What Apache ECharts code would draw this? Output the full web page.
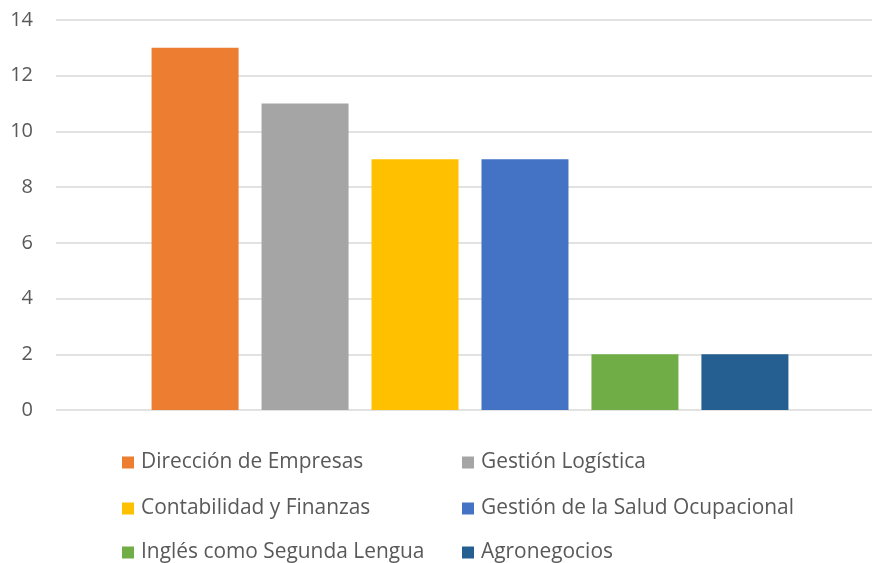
<!DOCTYPE html>
<html><head><meta charset="utf-8">
<script src="https://cdn.jsdelivr.net/npm/echarts@6/dist/echarts.min.js"></script>
<style>html,body{margin:0;padding:0;background:#fff}#c{width:872px;height:563px}</style>
</head><body><div id="c"></div>
<script>
const categories = [''];
const seriesNames = ['Dirección de Empresas','Gestión Logística','Contabilidad y Finanzas','Gestión de la Salud Ocupacional','Inglés como Segunda Lengua','Agronegocios'];
const seriesValues = [13, 11, 9, 9, 2, 2];
const seriesColors = ['#ED7D31','#A5A5A5','#FFC000','#4472C4','#70AD47','#255E91'];
const yTicks = [0,2,4,6,8,10,12,14];

const font = '"Open Sans", Lato, sans-serif';
const chart = echarts.init(document.getElementById('c'));
const series = seriesNames.map((n,i)=>({
  name:n, type:'bar', data:[seriesValues[i]], barWidth:87, barGap:'26.4%',
  itemStyle:{color:seriesColors[i]}
}));
const legendPos = [[117,447],[457,447],[117,493],[457,493],[117,537],[457,537]];
const legends = seriesNames.map((n,i)=>({
  left:legendPos[i][0], top:legendPos[i][1], data:[n],
  itemWidth:12, itemHeight:12, icon:'rect',
  textStyle:{fontFamily:font, fontSize:20.9, color:'#595959', padding:[0,0,0,2]}
}));
chart.setOption({
  animation:false,
  grid:{left:56, top:20, width:828, height:390, containLabel:false, outerBoundsMode:'none'},
  xAxis:{type:'category', data:categories, axisLine:{show:false}, axisTick:{show:false}, axisLabel:{show:false}},
  yAxis:{type:'value', min:0, max:14, interval:2,
    axisLabel:{fontFamily:font, fontSize:20, color:'#595959', margin:23},
    splitLine:{lineStyle:{color:'#D9D9D9', width:1.5}},
    axisLine:{show:false}, axisTick:{show:false}},
  legend:legends,
  series
});
</script></body></html>
